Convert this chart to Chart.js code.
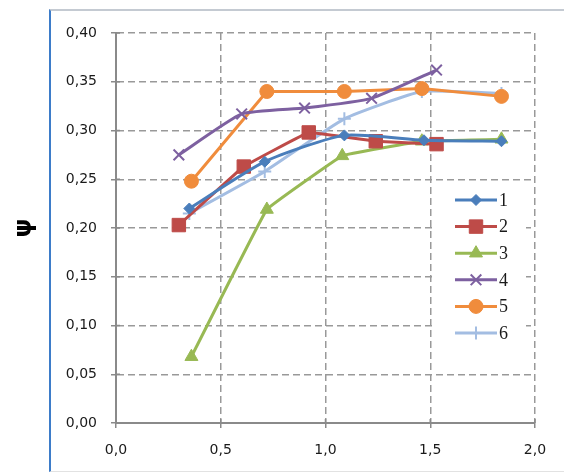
<!DOCTYPE html>
<html>
<head>
<meta charset="utf-8">
<script src="https://cdn.jsdelivr.net/npm/chart.js@4/dist/chart.umd.min.js"></script>
<style>
  html, body { margin: 0; padding: 0; background: #fff; overflow: hidden; }
  #wrap { position: relative; width: 564px; height: 472px; }
  #frame { position: absolute; left: 49px; top: 9px; width: 620px; height: 460px;
           border-left: 2px solid #3d7cc9; border-top: 2px solid #c4cad2; border-bottom: 1px solid #e2e2e2;
           pointer-events: none; z-index: 2; }
  canvas { position: absolute; left: 0; top: 0; }
</style>
</head>
<body>
<div id="wrap">
  <div id="frame"></div>
  <canvas id="c" width="564" height="472"></canvas>
</div>
<script>
const seriesNames = ['1', '2', '3', '4', '5', '6'];
const x1 = [0.35, 0.71, 1.09, 1.47, 1.84];
const y1 = [0.220, 0.268, 0.295, 0.290, 0.289];
const x2 = [0.30, 0.61, 0.92, 1.24, 1.53];
const y2 = [0.203, 0.263, 0.298, 0.289, 0.286];
const x3 = [0.36, 0.72, 1.08, 1.46, 1.84];
const y3 = [0.068, 0.219, 0.274, 0.289, 0.291];
const x4 = [0.30, 0.60, 0.90, 1.22, 1.53];
const y4 = [0.275, 0.317, 0.323, 0.333, 0.362];
const x5 = [0.36, 0.72, 1.09, 1.46, 1.84];
const y5 = [0.248, 0.340, 0.340, 0.343, 0.335];
const x6 = [0.35, 0.71, 1.09, 1.46, 1.84];
const y6 = [0.215, 0.258, 0.312, 0.340, 0.338];
const xTicks = [0.0, 0.5, 1.0, 1.5, 2.0];
const yTicks = [0.00, 0.05, 0.10, 0.15, 0.20, 0.25, 0.30, 0.35, 0.40];
const yTitle = 'ψ';

const xs = [x1, x2, x3, x4, x5, x6];
const ys = [y1, y2, y3, y4, y5, y6];
const colors = ['#4a7ebb', '#be4b48', '#98b954', '#7d60a0', '#f08c3c', '#a3bde2'];
const styles = ['rectRot', 'rect', 'triangle', 'crossRot', 'circle', 'cross'];
const radii = [5.5, 9.5, 7.5, 7.5, 7, 6.5];
const tensions = [0.2, 0.05, 0.05, 0.15, 0, 0.15];

const datasets = seriesNames.map((n, i) => ({
  label: n,
  data: xs[i].map((x, j) => ({ x: x, y: ys[i][j] })),
  borderColor: colors[i],
  backgroundColor: colors[i],
  pointBackgroundColor: colors[i],
  pointBorderColor: colors[i],
  pointStyle: styles[i],
  pointRadius: radii[i],
  pointBorderWidth: (styles[i] === 'crossRot' || styles[i] === 'cross') ? 2 : 1,
  borderWidth: 3,
  tension: tensions[i],
  fill: false
}));

const fmt = (v, d) => Number(v).toFixed(d).replace('.', ',');

// inner half of the crossing tick marks, placed via the library's scales
const crossTicks = {
  id: 'crossTicks',
  afterDraw(chart) {
    const ctx = chart.ctx, sx = chart.scales.x, sy = chart.scales.y;
    ctx.save();
    ctx.strokeStyle = '#8a8a8a';
    ctx.lineWidth = 1.5;
    ctx.beginPath();
    yTicks.forEach(v => { const p = sy.getPixelForValue(v); ctx.moveTo(sx.left, p); ctx.lineTo(sx.left + 4, p); });
    xTicks.forEach(v => { const p = sx.getPixelForValue(v); ctx.moveTo(p, sy.bottom); ctx.lineTo(p, sy.bottom - 4); });
    ctx.stroke();
    ctx.restore();
  }
};

const legendPlugin = {
  id: 'insideLegend',
  afterDraw(chart) {
    const ctx = chart.ctx;
    ctx.save();
    ctx.fillStyle = '#ffffff';
    ctx.fillRect(433, 188, 93, 158);
    const x0 = 455, x1e = 497, yStart = 200, step = 26.6;
    chart.data.datasets.forEach((ds, i) => {
      const yy = yStart + i * step;
      ctx.strokeStyle = ds.borderColor;
      ctx.lineWidth = 3;
      ctx.beginPath();
      ctx.moveTo(x0, yy);
      ctx.lineTo(x1e, yy);
      ctx.stroke();
      ctx.fillStyle = ds.backgroundColor;
      ctx.lineWidth = ds.pointBorderWidth;
      Chart.helpers.drawPoint(ctx, { pointStyle: ds.pointStyle, radius: ds.pointRadius, borderWidth: ds.pointBorderWidth, rotation: 0 }, (x0 + x1e) / 2, yy);
      ctx.fillStyle = '#1a1a1a';
      ctx.font = '18px "Liberation Serif", serif';
      ctx.textAlign = 'left';
      ctx.textBaseline = 'middle';
      ctx.fillText(ds.label, 499, yy + 1);
    });
    ctx.restore();
  }
};

new Chart(document.getElementById('c'), {
  type: 'line',
  data: { datasets: datasets },
  options: {
    responsive: false,
    animation: false,
    devicePixelRatio: 1,
    layout: { padding: { left: 0, top: 33, right: 29, bottom: 0 } },
    plugins: { legend: { display: false }, tooltip: { enabled: false } },
    scales: {
      x: {
        type: 'linear',
        min: 0, max: 2,
        afterFit(s) { s.height = 49; },
        afterBuildTicks(s) { s.ticks = xTicks.map(v => ({ value: v })); },
        ticks: {
          callback: v => fmt(v, 1),
          font: { family: 'DejaVu Sans', size: 14 },
          color: '#1a1a1a',
          padding: 14,
          maxRotation: 0
        },
        grid: { color: '#999999', lineWidth: 1.5, tickLength: 5, tickColor: '#8a8a8a', tickWidth: 1.5 },
        border: { display: true, color: '#8a8a8a', width: 2, dash: [7, 4] }
      },
      y: {
        type: 'linear',
        min: 0, max: 0.4,
        afterFit(s) { s.width = 116; },
        afterBuildTicks(s) { s.ticks = yTicks.map(v => ({ value: v })); },
        ticks: {
          callback: v => fmt(v, 2),
          font: { family: 'DejaVu Sans', size: 14 },
          color: '#1a1a1a',
          padding: 14
        },
        title: {
          display: true,
          text: yTitle,
          font: { family: 'DejaVu Sans', size: 24, weight: 'bold' },
          color: '#000000',
          padding: { top: 10, bottom: 0 }
        },
        grid: { color: '#999999', lineWidth: 1.5, tickLength: 5, tickColor: '#8a8a8a', tickWidth: 1.5 },
        border: { display: true, color: '#8a8a8a', width: 2, dash: [7, 4] }
      }
    }
  },
  plugins: [crossTicks, legendPlugin]
});
</script>
</body>
</html>
